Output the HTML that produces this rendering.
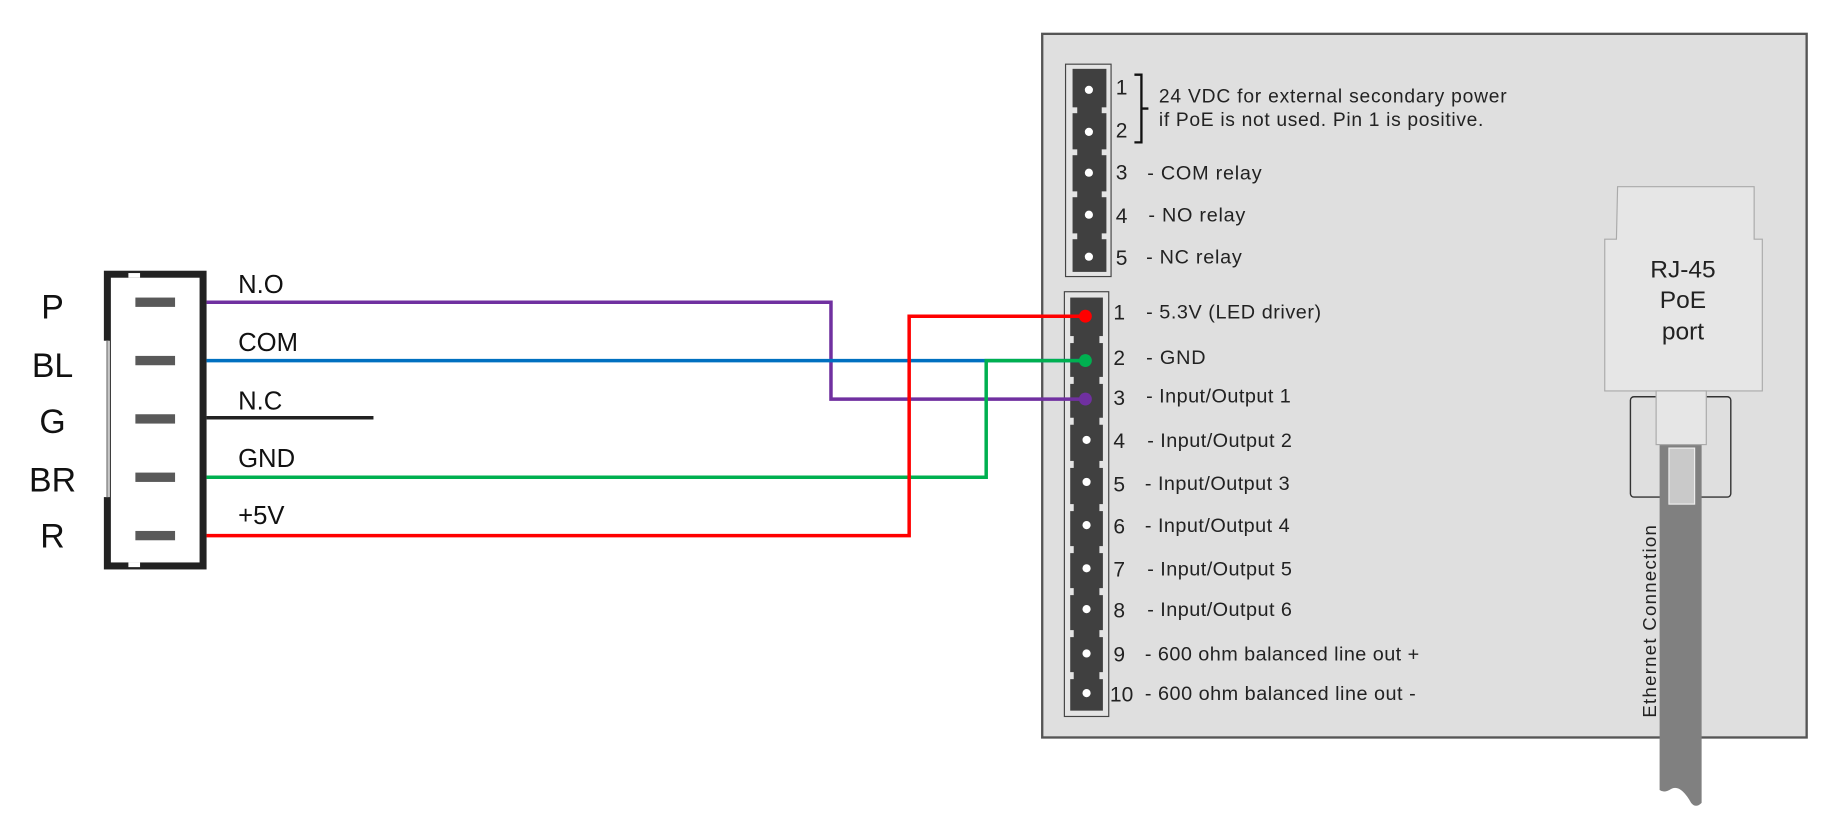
<!DOCTYPE html>
<html><head><meta charset="utf-8"><style>html,body{margin:0;padding:0;background:#fff;}svg{display:block}</style></head>
<body>
<svg width="1830" height="832" viewBox="0 0 1568 713" preserveAspectRatio="none" xmlns="http://www.w3.org/2000/svg" font-family="Liberation Sans, sans-serif">
<rect x="0" y="0" width="1568" height="713" fill="#fff"/>
<!-- main panel -->
<rect x="893" y="29" width="655" height="603" fill="#dfdfdf" stroke="#555" stroke-width="2"/>
<!-- top connector -->
<rect x="913" y="55" width="39" height="182" fill="#e4e4e4" stroke="#444" stroke-width="1"/>
<rect x="919" y="59" width="29" height="174" fill="#404040"/>
<g fill="#e4e4e4">
<rect x="917" y="92" width="6" height="5"/><rect x="944" y="92" width="6" height="5"/>
<rect x="917" y="128" width="6" height="5"/><rect x="944" y="128" width="6" height="5"/>
<rect x="917" y="164" width="6" height="5"/><rect x="944" y="164" width="6" height="5"/>
<rect x="917" y="200" width="6" height="5"/><rect x="944" y="200" width="6" height="5"/>
</g>
<g fill="#fff">
<circle cx="933" cy="77" r="3.5"/><circle cx="933" cy="113" r="3.5"/><circle cx="933" cy="148" r="3.5"/><circle cx="933" cy="184" r="3.5"/><circle cx="933" cy="220" r="3.5"/>
</g>
<!-- bottom connector -->
<rect x="912" y="250" width="38" height="364" fill="#e4e4e4" stroke="#444" stroke-width="1"/>
<rect x="917" y="255" width="28" height="354" fill="#404040"/>
<g fill="#e4e4e4">
<rect x="915" y="288" width="5" height="6"/><rect x="942" y="288" width="5" height="6"/>
<rect x="915" y="323" width="5" height="6"/><rect x="942" y="323" width="5" height="6"/>
<rect x="915" y="358" width="5" height="6"/><rect x="942" y="358" width="5" height="6"/>
<rect x="915" y="395" width="5" height="6"/><rect x="942" y="395" width="5" height="6"/>
<rect x="915" y="432" width="5" height="6"/><rect x="942" y="432" width="5" height="6"/>
<rect x="915" y="468" width="5" height="6"/><rect x="942" y="468" width="5" height="6"/>
<rect x="915" y="504" width="5" height="6"/><rect x="942" y="504" width="5" height="6"/>
<rect x="915" y="540" width="5" height="6"/><rect x="942" y="540" width="5" height="6"/>
<rect x="915" y="576" width="5" height="6"/><rect x="942" y="576" width="5" height="6"/>
</g>
<g fill="#fff">
<circle cx="931" cy="377" r="3.5"/><circle cx="931" cy="413" r="3.5"/><circle cx="931" cy="450" r="3.5"/><circle cx="931" cy="487" r="3.5"/><circle cx="931" cy="522" r="3.5"/><circle cx="931" cy="560" r="3.5"/><circle cx="931" cy="594" r="3.5"/>
</g>
<!-- top labels -->
<g font-size="18" fill="#222">
<text x="956" y="81">1</text>
<text x="956" y="118">2</text>
<text x="956" y="154">3</text><text x="983" y="154" font-size="17" textLength="98">- COM relay</text>
<text x="956" y="191">4</text><text x="984" y="190" font-size="17" textLength="83">- NO relay</text>
<text x="956" y="227">5</text><text x="982" y="226" font-size="17" textLength="82">- NC relay</text>
</g>
<path d="M972 64 H978 V122 H972 M978 93 H984" stroke="#111" stroke-width="2" fill="none"/>
<g font-size="16.5" fill="#222">
<text x="993" y="88" textLength="298">24 VDC for external secondary power</text>
<text x="993" y="108" textLength="278">if PoE is not used. Pin 1 is positive.</text>
</g>
<g font-size="18" fill="#222">
<text x="954" y="274">1</text><text x="982" y="273" font-size="17" textLength="150">- 5.3V (LED driver)</text>
<text x="954" y="313">2</text><text x="982" y="312" font-size="17" textLength="51">- GND</text>
<text x="954" y="347">3</text><text x="982" y="345" font-size="17" textLength="124">- Input/Output 1</text>
<text x="954" y="384">4</text><text x="983" y="383" font-size="17" textLength="124">- Input/Output 2</text>
<text x="954" y="421">5</text><text x="981" y="420" font-size="17" textLength="124">- Input/Output 3</text>
<text x="954" y="457">6</text><text x="981" y="456" font-size="17" textLength="124">- Input/Output 4</text>
<text x="954" y="494">7</text><text x="983" y="493" font-size="17" textLength="124">- Input/Output 5</text>
<text x="954" y="529">8</text><text x="983" y="528" font-size="17" textLength="124">- Input/Output 6</text>
<text x="954" y="567">9</text><text x="981" y="566" font-size="17" textLength="235">- 600 ohm balanced line out +</text>
<text x="951" y="601">10</text><text x="981" y="600" font-size="17" textLength="232">- 600 ohm balanced line out -</text>
</g>
<!-- RJ45 -->
<path d="M1386 160 H1503 V205 H1510 V335 H1375 V205 H1385 Z" fill="#e6e6e6" stroke="#aaa" stroke-width="1"/>
<g font-size="21" fill="#222" text-anchor="middle">
<text x="1442" y="238">RJ-45</text><text x="1442" y="264">PoE</text><text x="1442" y="291">port</text>
</g>
<rect x="1397" y="340" width="86" height="86" rx="3" fill="none" stroke="#333" stroke-width="1.2"/>
<path d="M1422 378 H1458 V688 Q1453 693 1449 688 Q1440 672 1432 676 Q1426 680 1422 677 Z" fill="#808080"/>
<rect x="1430" y="384" width="22" height="48" fill="#c9c9c9" stroke="#eee" stroke-width="1"/>
<rect x="1419" y="335" width="43" height="46" fill="#e6e6e6" stroke="#aaa" stroke-width="1"/>
<text transform="translate(1419,615) rotate(-90)" font-size="16" fill="#222" textLength="165">Ethernet Connection</text>
<!-- left connector -->
<rect x="92" y="235" width="82" height="250" fill="#fff" stroke="#222" stroke-width="6"/>
<rect x="88" y="292" width="6" height="134" fill="#fff"/>
<line x1="92" y1="292" x2="92" y2="426" stroke="#999" stroke-width="2"/>
<rect x="110" y="234" width="10" height="4" fill="#fff"/>
<rect x="110" y="482" width="10" height="4" fill="#fff"/>
<g fill="#595959">
<rect x="116" y="255" width="34" height="8"/><rect x="116" y="305" width="34" height="8"/><rect x="116" y="355" width="34" height="8"/><rect x="116" y="405" width="34" height="8"/><rect x="116" y="455" width="34" height="8"/>
</g>
<g font-size="29" fill="#111" text-anchor="middle">
<text x="45" y="273">P</text><text x="45" y="323">BL</text><text x="45" y="371">G</text><text x="45" y="421">BR</text><text x="45" y="469">R</text>
</g>
<g font-size="22" fill="#111">
<text x="204" y="251">N.O</text><text x="204" y="301">COM</text><text x="204" y="351">N.C</text><text x="204" y="400">GND</text><text x="204" y="449">+5V</text>
</g>
<!-- wires -->
<g fill="none" stroke-width="3">
<polyline points="177,259 712,259 712,342 930,342" stroke="#7030a0"/>
<polyline points="177,309 930,309" stroke="#0070c0"/>
<polyline points="177,358 320,358" stroke="#222"/>
<polyline points="177,409 845,409 845,309 930,309" stroke="#00b050"/>
<polyline points="177,459 779,459 779,271 930,271" stroke="#ff0000"/>
</g>
<circle cx="930" cy="271" r="5.5" fill="#ff0000"/>
<circle cx="930" cy="309" r="5.5" fill="#00b050"/>
<circle cx="930" cy="342" r="5.5" fill="#7030a0"/>
</svg>
</body></html>
